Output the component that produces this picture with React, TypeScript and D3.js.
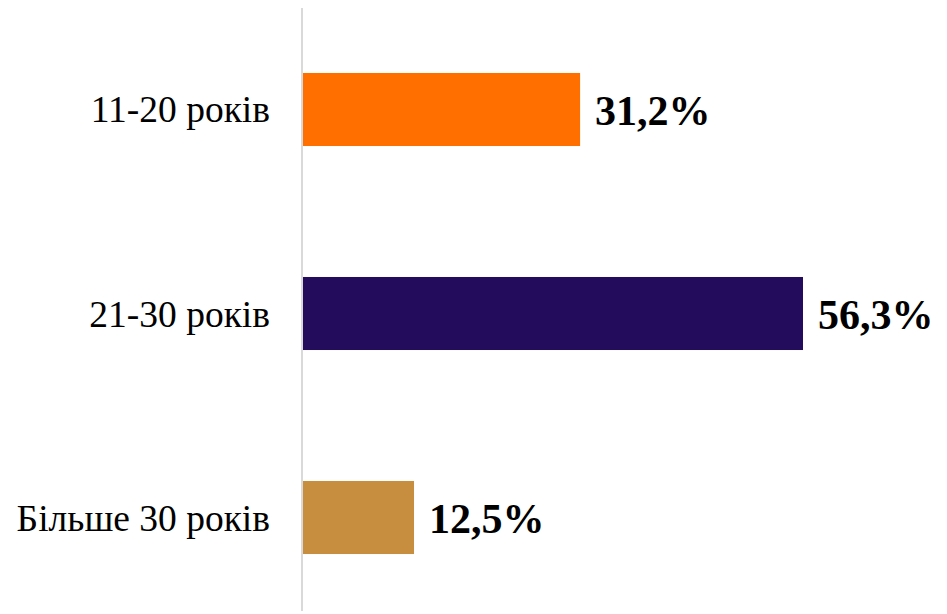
import React from "react";
import * as d3 from "d3";

const categories = ["11-20 років", "21-30 років", "Більше 30 років"];
const values = [31.2, 56.3, 12.5];
const valueLabels = ["31,2%", "56,3%", "12,5%"];
const colors = ["#FF6F00", "#230C5C", "#C78E3F"];

const W = 947;
const H = 614;
const FONT = "Liberation Serif";

export default function App() {
  const x = d3.scaleLinear().domain([0, 56.3]).range([303, 803]);
  const y = d3
    .scaleBand<string>()
    .domain(categories)
    .range([7.7, 619.3])
    .paddingInner(0.642)
    .paddingOuter(0.32);
  return (
    <svg width={W} height={H} style={{ position: "absolute", left: 0, top: 0 }}>
      <rect x={0} y={0} width={W} height={H} fill="#fff" />
      {categories.map((c, i) => {
        const y0 = y(c)!;
        const bw = y.bandwidth();
        const cy = y0 + bw / 2;
        return (
          <g key={c}>
            <rect x={x(0)} y={y0} width={x(values[i]) - x(0)} height={bw} fill={colors[i]} />
            <text
              x={270}
              y={cy + 13}
              textAnchor="end"
              style={{ fontFamily: FONT, fontSize: 37.5 }}
              fill="#000"
            >
              {c}
            </text>
            <text
              x={x(values[i]) + 15}
              y={cy + 15.5}
              style={{ fontFamily: FONT, fontSize: 42, fontWeight: "bold" }}
              fill="#000"
            >
              {valueLabels[i]}
            </text>
          </g>
        );
      })}
      <line x1={302} x2={302} y1={8} y2={611} stroke="#D9D9D9" strokeWidth={2} />
    </svg>
  );
}
